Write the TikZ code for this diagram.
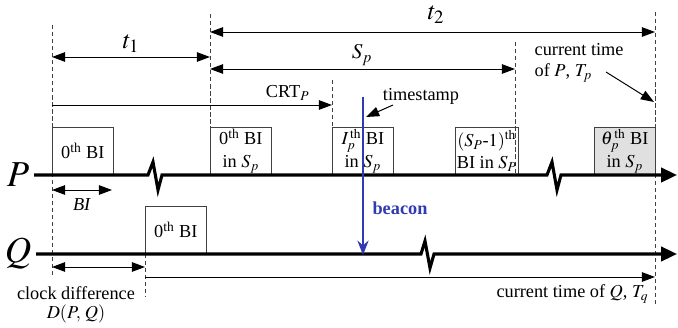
\documentclass[tikz,border=0pt]{standalone}
\usepackage{mathptmx}
\usepackage{fontspec}
\setmainfont{Liberation Serif}
\usetikzlibrary{arrows.meta,positioning,calc}
\definecolor{beaconblue}{RGB}{48,58,178}
\newcommand{\thsup}{\textsuperscript{th}}

\begin{document}
\begin{tikzpicture}[x=0.025cm, y=-0.025cm,
  bi/.style={draw=black!75, line width=0.6pt, anchor=south west, minimum width=1.52cm, minimum height=1.18cm, inner sep=1pt, align=center, font=\fontsize{13}{16}\selectfont},
  axis/.style={line width=2.2pt, -{Triangle[length=4mm,width=3.6mm]}},
  guide/.style={line width=0.6pt, black!75, dash pattern=on 3pt off 2pt},
  span/.style={line width=0.7pt, {Triangle[length=3.3mm,width=2.4mm]}-{Triangle[length=3.3mm,width=2.4mm]}},
  oneway/.style={line width=0.7pt, -{Triangle[length=3.3mm,width=2.4mm]}},
  lbl/.style={font=\fontsize{13}{15}\selectfont, inner sep=1pt}]
  \useasboundingbox (0,0) rectangle (678,328);

  % time points
  \coordinate (o)  at (52,175);
  \coordinate (s)  at (210,175);
  \coordinate (c)  at (332,175);
  \coordinate (e)  at (515,175);
  \coordinate (n)  at (655,175);
  \coordinate (d)  at (145,254);

  % dashed guides
  \draw[guide] (52,25) -- (52,277);
  \draw[guide] (210,14) -- (s);
  \draw[guide] (332,80) -- (c);
  \draw[guide] (515,42) -- (e);
  \draw[guide] (655,12) -- (655,305);
  \draw[guide] (d) -- (145,297);

  % beacon intervals
  \node[bi] (p0) at (o) {0\thsup{} BI};
  \node[bi] (s0) at (s) {0\thsup{} BI\\in $S_p$};
  \node[bi] (si) at (c) {$I_p^{\,\mathrm{th}}$ BI\\in $S_p$};
  \node[bi] (sl) at (455,175) {$(S_P\mbox{-}1)^{\mathrm{th}}$\\BI in $S_P$};
  \node[bi, fill=black!12] (st) at (594,175) {$\theta_p^{\,\mathrm{th}}$ BI\\in $S_p$};
  \node[bi] (q0) at (d) {0\thsup{} BI};

  % time lines
  \node[font=\fontsize{26}{28}\selectfont] (P) at (18,175) {$P$};
  \node[font=\fontsize{26}{28}\selectfont] (Q) at (18,254) {$Q$};
  \draw[axis] (P.east) -- (148,175) -- (153,162) -- (158,190) -- (162,175)
    -- (547,175) -- (552,162) -- (557,190) -- (561,175) -- (677,175);
  \draw[axis] (Q.east) -- (421,254) -- (425,241) -- (430,268) -- (434,254) -- (677,254);

  % spans
  \coordinate (t1a) at (52,57);  \coordinate (t1b) at (210,57);
  \coordinate (t2a) at (210,32); \coordinate (t2b) at (655,32);
  \coordinate (spa) at (210,69); \coordinate (spb) at (515,69);
  \coordinate (cra) at (52,105); \coordinate (crb) at (332,105);
  \draw[span] (t1a) -- (t1b);
  \draw[span] (t2a) -- (t2b);
  \draw[span] (spa) -- (spb);
  \draw[oneway] (cra) -- (crb);
  \node[font=\fontsize{18}{19}\selectfont] (t1) at (131,44) {$t_1$};
  \node[font=\fontsize{18}{19}\selectfont] (t2) at (436,15) {$t_2$};
  \node[font=\fontsize{15}{16}\selectfont] (sp) at (362,55) {$S_p$};
  \node[lbl, anchor=east] (crt) at (311,93) {CRT$_P$};

  \coordinate (bia) at (52,190); \coordinate (bib) at (112,190);
  \draw[span] (bia) -- (bib);
  \node[lbl] (bi) at (82,205) {\textit{BI}};

  \coordinate (cda) at (52,267); \coordinate (cdb) at (145,267);
  \draw[span] (cda) -- (cdb);
  \node[lbl] (cd) at (76,293) {clock difference};
  \node[lbl] (dpq) at (76,314) {$D(P,\,Q)$};

  \coordinate (cqa) at (145,277); \coordinate (cqb) at (655,277);
  \draw[oneway] (cqa) -- (cqb);
  \node[lbl, anchor=east] (cq) at (650,294) {current time of $Q$, $T_q$};

  % beacon
  \coordinate (ts) at (363,97);
  \coordinate (tp) at (363,175);
  \coordinate (tq) at (363,255);
  \draw[beaconblue, line width=1.5pt] (ts) -- (tp);
  \draw[beaconblue, line width=1.5pt, -{Stealth[length=3.6mm,width=2.8mm,inset=1.2mm]}] (tp) -- (tq);
  \node[lbl, font=\fontsize{13}{15}\selectfont\bfseries, text=beaconblue] (bc) at (400,208) {beacon};
  \node[lbl] (tsl) at (421,96) {timestamp};
  \coordinate (tsa) at (393,105); \coordinate (tsb) at (366,117);
  \draw[oneway] (tsa) -- (tsb);

  \node[lbl, anchor=west, align=left] (cp) at (533,63) {current time\\of $P$, $T_p$};
  \coordinate (cpa) at (606,72); \coordinate (cpb) at (654,102);
  \draw[oneway] (cpa) -- (cpb);
\end{tikzpicture}
\end{document}
